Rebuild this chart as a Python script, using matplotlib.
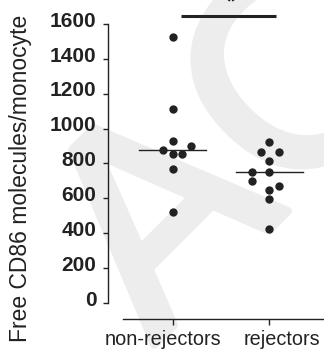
import matplotlib
matplotlib.use("Agg")
import matplotlib.pyplot as plt
import matplotlib.patheffects as pe
import numpy as np

plt.rcParams['font.family'] = ['Liberation Sans', 'DejaVu Sans']

categories = ["non-rejectors", "rejectors"]
nonrej_values = [1524, 1111, 931, 900, 877, 854, 854, 767, 522]
nonrej_jitter = [0, 0, 0, 0.19, -0.097, 0, 0.093, 0, 0]
rej_values = [922, 864, 864, 816, 751, 751, 698, 671, 648, 595, 423]
rej_jitter = [0, -0.086, 0.10, 0, -0.182, 0, -0.182, 0.10, 0, 0, 0]
yticks = [0, 200, 400, 600, 800, 1000, 1200, 1400, 1600]
ylabel = "Free CD86 molecules/monocyte"
sig_label = "*"
watermark = "AC"

ink = "#222222"
wm_color = "#ededed"

fig = plt.figure(figsize=(3.24, 3.52), dpi=100)
ax = fig.add_axes([108/324, 0.0929, 216/324, 0.88847])
ax.patch.set_alpha(0)

# faint watermark behind the chart
ax.text(154/324, 1 - 345/352, watermark, transform=fig.transFigure,
        rotation=45, rotation_mode='anchor', ha='left', va='baseline',
        fontsize=205, color=wm_color, zorder=0, clip_on=False,
        path_effects=[pe.withStroke(linewidth=6, foreground=wm_color)])

groups = [(nonrej_values, nonrej_jitter), (rej_values, rej_jitter)]
for i, (vals, jit) in enumerate(groups):
    xs = np.array(jit) + i
    ax.scatter(xs, vals, s=36, color=ink, zorder=3, linewidths=0)
    med = np.median(vals)
    ax.plot([i - 0.345, i + 0.345], [med, med], color=ink, lw=1.0, zorder=2)

# significance bar
ax.plot([0.087, 1.07], [1648, 1648], color=ink, lw=2.2, solid_capstyle='butt', clip_on=False)
ax.text(0.6, 1697, sig_label, ha='center', va='baseline', fontsize=15,
        fontweight='bold', color=ink, clip_on=False)

ax.set_xlim(-0.67, 1.566)
ax.set_ylim(-93.5, 1700)
ax.set_yticks(yticks)
ax.set_yticklabels([])
ax.set_xticks([0, 1])
ax.set_xticklabels([])

# y tick labels (sit slightly above their ticks, as in the reference)
for v in yticks:
    ax.annotate(str(v), xy=(0, v), xycoords=('axes fraction', 'data'),
                xytext=(-8.3, -1.9), textcoords='offset points',
                ha='right', va='baseline', fontsize=15, fontweight='bold', color=ink)

# category labels, offset sideways as in the reference
for i, (lab, dx) in enumerate(zip(categories, [-6.8, 9.4])):
    ax.annotate(lab, xy=(i, 0), xycoords=('data', 'axes fraction'),
                xytext=(dx, -7.5), textcoords='offset points',
                ha='center', va='top', fontsize=14.3, color=ink)

ax.set_ylabel(ylabel, fontsize=16.5, color=ink)
ax.yaxis.label.set_rotation_mode('anchor')
ax.yaxis.label.set_va('baseline')
ax.yaxis.label.set_ha('center')
ax.yaxis.set_label_coords(-0.3736, 0.4515)

for s in ['top', 'right']:
    ax.spines[s].set_visible(False)
ax.spines['left'].set_bounds(0, 1600)
ax.spines['bottom'].set_bounds(-0.514, 1.556)
for s in ['left', 'bottom']:
    ax.spines[s].set_color(ink)
    ax.spines[s].set_linewidth(1.0)
ax.tick_params(axis='y', length=3.6, width=1.0, color=ink)
ax.tick_params(axis='x', length=4, width=1.0, color=ink)

fig.savefig("out.png", dpi=100)
